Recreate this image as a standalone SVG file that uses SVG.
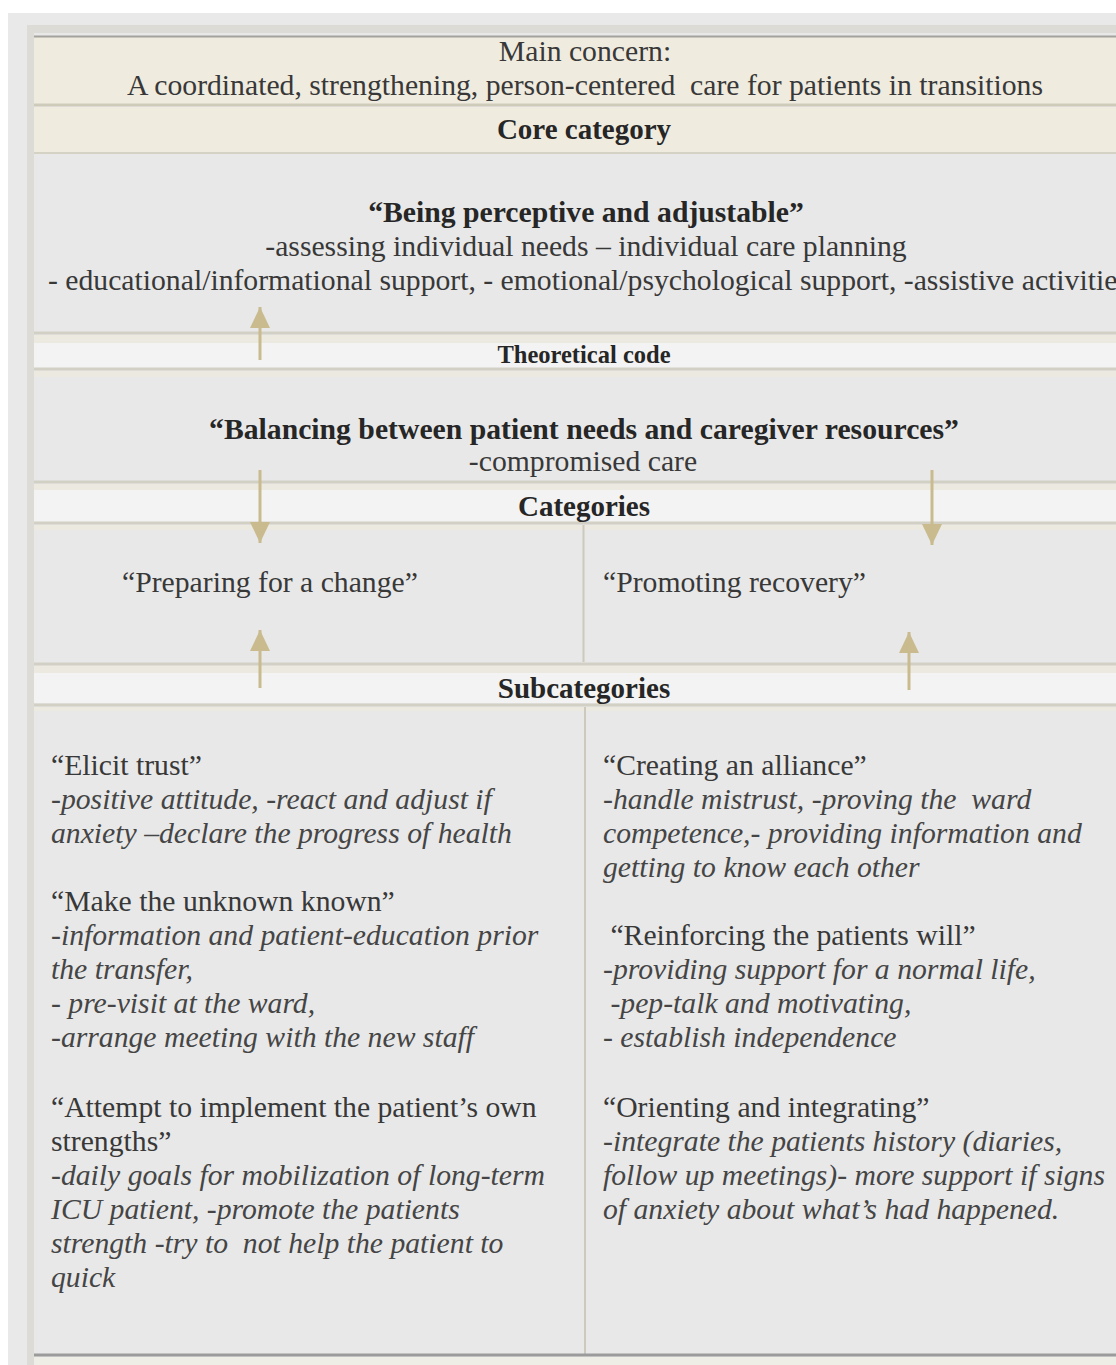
<svg xmlns="http://www.w3.org/2000/svg" width="1116" height="1365" viewBox="0 0 1116 1365">
<defs>
<style>
text{font-family:"Liberation Serif","Times New Roman",serif;fill:#383838;white-space:pre;}
.t{font-size:29.7px;}
.h{font-size:29px;font-weight:bold;fill:#262626;}
.b{font-size:29.7px;font-weight:bold;fill:#262626;}
.i{font-size:29.7px;font-style:italic;fill:#454545;}
.c{text-anchor:middle;}
.band{fill:#f3f3f3;}
.gray{fill:#e8e8e8;}
.beige{fill:#efebdf;}
.ln{stroke:#d2cfc4;stroke-width:3;}
.strip{fill:#ebe9e0;}
.arrow{stroke:#c9bb8e;stroke-width:3;fill:none;marker-end:url(#ah);}
</style>
<marker id="ah" markerUnits="userSpaceOnUse" markerWidth="22" markerHeight="22" viewBox="0 0 22 22" refX="21" refY="11" orient="auto">
<path d="M0,1 L21,11 L0,21 Z" fill="#c9bb8e"/>
</marker>
</defs>
<rect width="1116" height="1365" fill="#ffffff"/>
<rect x="8" y="13" width="1108" height="1352" fill="#e9e9e9"/>
<rect x="27" y="25" width="1089" height="1340" fill="#dcdbd5"/>
<rect x="34" y="33" width="1082" height="1332" fill="#e8e8e8"/>

<g id="main-concern">
<rect x="34" y="36" width="1082" height="68" class="beige"/>
<line x1="34" y1="36.5" x2="1116" y2="36.5" stroke="#a3a29d" stroke-width="2"/>
<line x1="34" y1="105" x2="1116" y2="105" stroke="#cfcbbb" stroke-width="3"/>
<text x="585" y="61" class="t c">Main concern:</text>
<text x="585" y="95" class="t c">A coordinated, strengthening, person-centered  care for patients in transitions</text>
</g>

<g id="core-category-header">
<rect x="34" y="107" width="1082" height="45" class="beige"/>
<line x1="34" y1="153" x2="1116" y2="153" stroke="#d4d1c5" stroke-width="2"/>
<text x="584" y="139" class="h c">Core category</text>
</g>

<g id="core-category">
<rect x="34" y="155" width="1082" height="177" class="gray"/>
<text x="586" y="222" class="b c">“Being perceptive and adjustable”</text>
<text x="586" y="256" class="t c">-assessing individual needs – individual care planning</text>
<text x="48" y="290" class="t">- educational/informational support, - emotional/psychological support, -assistive activities</text>
</g>

<g id="theoretical-code-header">
<line x1="34" y1="333" x2="1116" y2="333" class="ln"/>
<rect x="34" y="335" width="1082" height="8" class="strip"/>
<rect x="34" y="343" width="1082" height="25" class="band"/>
<line x1="34" y1="369" x2="1116" y2="369" class="ln"/>
<rect x="34" y="371" width="1082" height="6" class="strip"/>
<text x="584" y="363" class="h c" style="font-size:24.5px">Theoretical code</text>
</g>

<g id="theoretical-code">
<rect x="34" y="377" width="1082" height="103" class="gray"/>
<text x="584" y="439" class="b c">“Balancing between patient needs and caregiver resources”</text>
<text x="583" y="471" class="t c">-compromised care</text>
</g>

<g id="categories-header">
<line x1="34" y1="482" x2="1116" y2="482" class="ln"/>
<rect x="34" y="484" width="1082" height="6" class="strip"/>
<rect x="34" y="490" width="1082" height="32" class="band"/>
<line x1="34" y1="523" x2="1116" y2="523" class="ln"/>
<rect x="34" y="525" width="1082" height="5" class="strip"/>
<text x="584" y="516" class="h c">Categories</text>
</g>

<g id="category-preparing">
<rect x="34" y="530" width="548" height="132" class="gray"/>
<text x="122" y="592" class="t">“Preparing for a change”</text>
</g>
<g id="category-promoting">
<rect x="586" y="530" width="530" height="132" class="gray"/>
<text x="603" y="592" class="t">“Promoting recovery”</text>
</g>
<line x1="583.5" y1="525" x2="583.5" y2="662" stroke="#cdc9bd" stroke-width="2"/>

<g id="subcategories-header">
<line x1="34" y1="664" x2="1116" y2="664" class="ln"/>
<rect x="34" y="666" width="1082" height="7" class="strip"/>
<rect x="34" y="673" width="1082" height="30" class="band"/>
<line x1="34" y1="705" x2="1116" y2="705" class="ln"/>
<rect x="34" y="707" width="1082" height="4" class="strip"/>
<text x="584" y="698" class="h c">Subcategories</text>
</g>

<g id="subcategories-left">
<rect x="34" y="711" width="549" height="642" class="gray"/>
<text x="51" y="775" class="t">“Elicit trust”</text>
<text x="51" y="809" class="i">-positive attitude, -react and adjust if</text>
<text x="51" y="843" class="i">anxiety –declare the progress of health</text>
<text x="51" y="911" class="t">“Make the unknown known”</text>
<text x="51" y="945" class="i">-information and patient-education prior</text>
<text x="51" y="979" class="i">the transfer,</text>
<text x="51" y="1013" class="i">- pre-visit at the ward,</text>
<text x="51" y="1047" class="i">-arrange meeting with the new staff</text>
<text x="51" y="1117" class="t">“Attempt to implement the patient’s own</text>
<text x="51" y="1151" class="t">strengths”</text>
<text x="51" y="1185" class="i">-daily goals for mobilization of long-term</text>
<text x="51" y="1219" class="i">ICU patient, -promote the patients</text>
<text x="51" y="1253" class="i">strength -try to  not help the patient to</text>
<text x="51" y="1287" class="i">quick</text>
</g>

<g id="subcategories-right">
<rect x="587" y="711" width="529" height="642" class="gray"/>
<text x="603" y="775" class="t">“Creating an alliance”</text>
<text x="603" y="809" class="i">-handle mistrust, -proving the  ward</text>
<text x="603" y="843" class="i">competence,- providing information and</text>
<text x="603" y="877" class="i">getting to know each other</text>
<text x="603" y="945" class="t"> “Reinforcing the patients will”</text>
<text x="603" y="979" class="i">-providing support for a normal life,</text>
<text x="603" y="1013" class="i"> -pep-talk and motivating,</text>
<text x="603" y="1047" class="i">- establish independence</text>
<text x="603" y="1117" class="t">“Orienting and integrating”</text>
<text x="603" y="1151" class="i">-integrate the patients history (diaries,</text>
<text x="603" y="1185" class="i">follow up meetings)- more support if signs</text>
<text x="603" y="1219" class="i">of anxiety about what’s had happened.</text>
</g>
<line x1="585" y1="707" x2="585" y2="1354" stroke="#cdc9bd" stroke-width="2"/>
<line x1="34" y1="1355" x2="1116" y2="1355" stroke="#9b9b9b" stroke-width="3"/>
<rect x="34" y="1357" width="1082" height="8" fill="#efeee6"/>

<g id="connectors">
<line x1="260" y1="360" x2="260" y2="307" class="arrow"/>
<line x1="260" y1="470" x2="260" y2="543" class="arrow"/>
<line x1="932" y1="470" x2="932" y2="545" class="arrow"/>
<line x1="260" y1="688" x2="260" y2="630" class="arrow"/>
<line x1="909" y1="690" x2="909" y2="632" class="arrow"/>
</g>
</svg>
